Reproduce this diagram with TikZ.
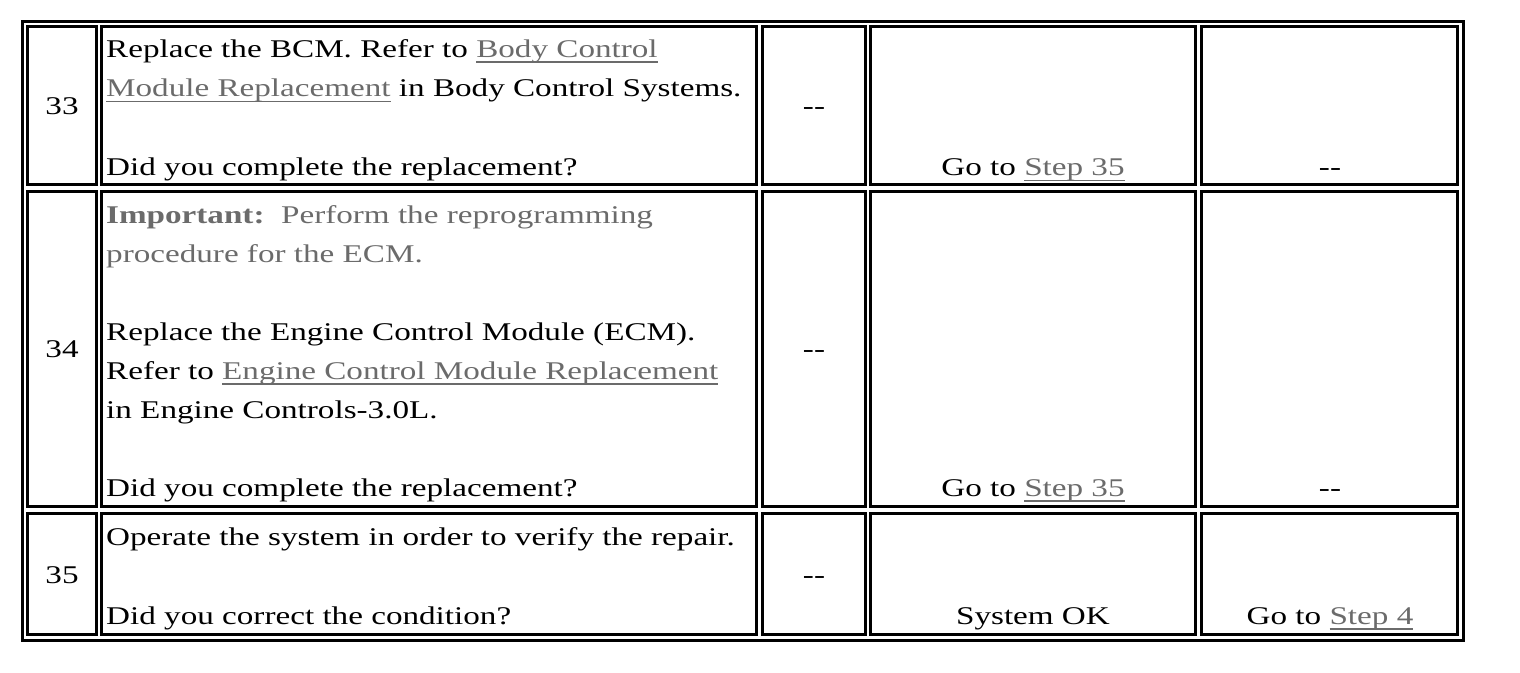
\documentclass[tikz,border=0pt]{standalone}
\usepackage{fontspec}
\setmainfont[FakeStretch=1.3]{Liberation Serif}
\definecolor{linkc}{gray}{0.42}
\newcommand\fs{\fontsize{25.5}{39}\selectfont}
\newcommand\lnk[1]{\setbox0\hbox{\textcolor{linkc}{#1}}\textcolor{linkc}{\rlap{\rule[-5.5pt]{\wd0}{1.3pt}}}\box0\relax}
\newcommand\dsh{-\kern0.3pt-}
\begin{document}
\begin{tikzpicture}[x=1pt,y=-1pt,
  cellb/.style={draw=black,line width=3pt},
  txt/.style={anchor=base west,inner sep=0pt,font=\fs},
  ctr/.style={anchor=base,inner sep=0pt,font=\fs}]
\useasboundingbox (0,0) rectangle (1520,672);
% outer border
\draw[cellb] (22.5,21.5) rectangle (1463.5,640.5);
% cells
\foreach \ya/\yb in {26.5/184.5,191.5/506.5,513.5/634.5}{
  \draw[cellb] (27.5,\ya) rectangle (96.5,\yb);
  \draw[cellb] (101.5,\ya) rectangle (756,\yb);
  \draw[cellb] (762,\ya) rectangle (865.5,\yb);
  \draw[cellb] (870.5,\ya) rectangle (1195.5,\yb);
  \draw[cellb] (1201.5,\ya) rectangle (1457.5,\yb);
}
% row 33
\node[ctr] (n33) at (62,114) {33};
\node[txt] (t33a) at (106,57) {Replace the BCM. Refer to \lnk{Body Control}};
\node[txt] (t33b) at (106,96.5) {\lnk{Module Replacement} in Body Control Systems.};
\node[txt] (t33c) at (106,175.7) {Did you complete the replacement?};
\node[ctr] (v33) at (814,114) {\dsh};
\node[ctr] (y33) at (1033,175.7) {Go to \lnk{Step 35}};
\node[ctr] (x33) at (1330,175.7) {\dsh};
% row 34
\node[ctr] (n34) at (62,357) {34};
\node[txt] (t34a) at (106,223) {\textcolor{linkc}{\textbf{Important:}\ \ Perform the reprogramming}};
\node[txt] (t34b) at (106,262) {\textcolor{linkc}{procedure for the ECM.}};
\node[txt] (t34c) at (106,340) {Replace the Engine Control Module (ECM).};
\node[txt] (t34d) at (106,379) {Refer to \lnk{Engine Control Module Replacement}};
\node[txt] (t34e) at (106,418) {in Engine Controls-3.0L.};
\node[txt] (t34f) at (106,496) {Did you complete the replacement?};
\node[ctr] (v34) at (814,357) {\dsh};
\node[ctr] (y34) at (1033,496) {Go to \lnk{Step 35}};
\node[ctr] (x34) at (1330,496) {\dsh};
% row 35
\node[ctr] (n35) at (62,583) {35};
\node[txt] (t35a) at (106,545) {Operate the system in order to verify the repair.};
\node[txt] (t35b) at (106,624) {Did you correct the condition?};
\node[ctr] (v35) at (814,583) {\dsh};
\node[ctr] (y35) at (1033,624) {System OK};
\node[ctr] (x35) at (1330,624) {Go to \lnk{Step 4}};
\end{tikzpicture}
\end{document}
